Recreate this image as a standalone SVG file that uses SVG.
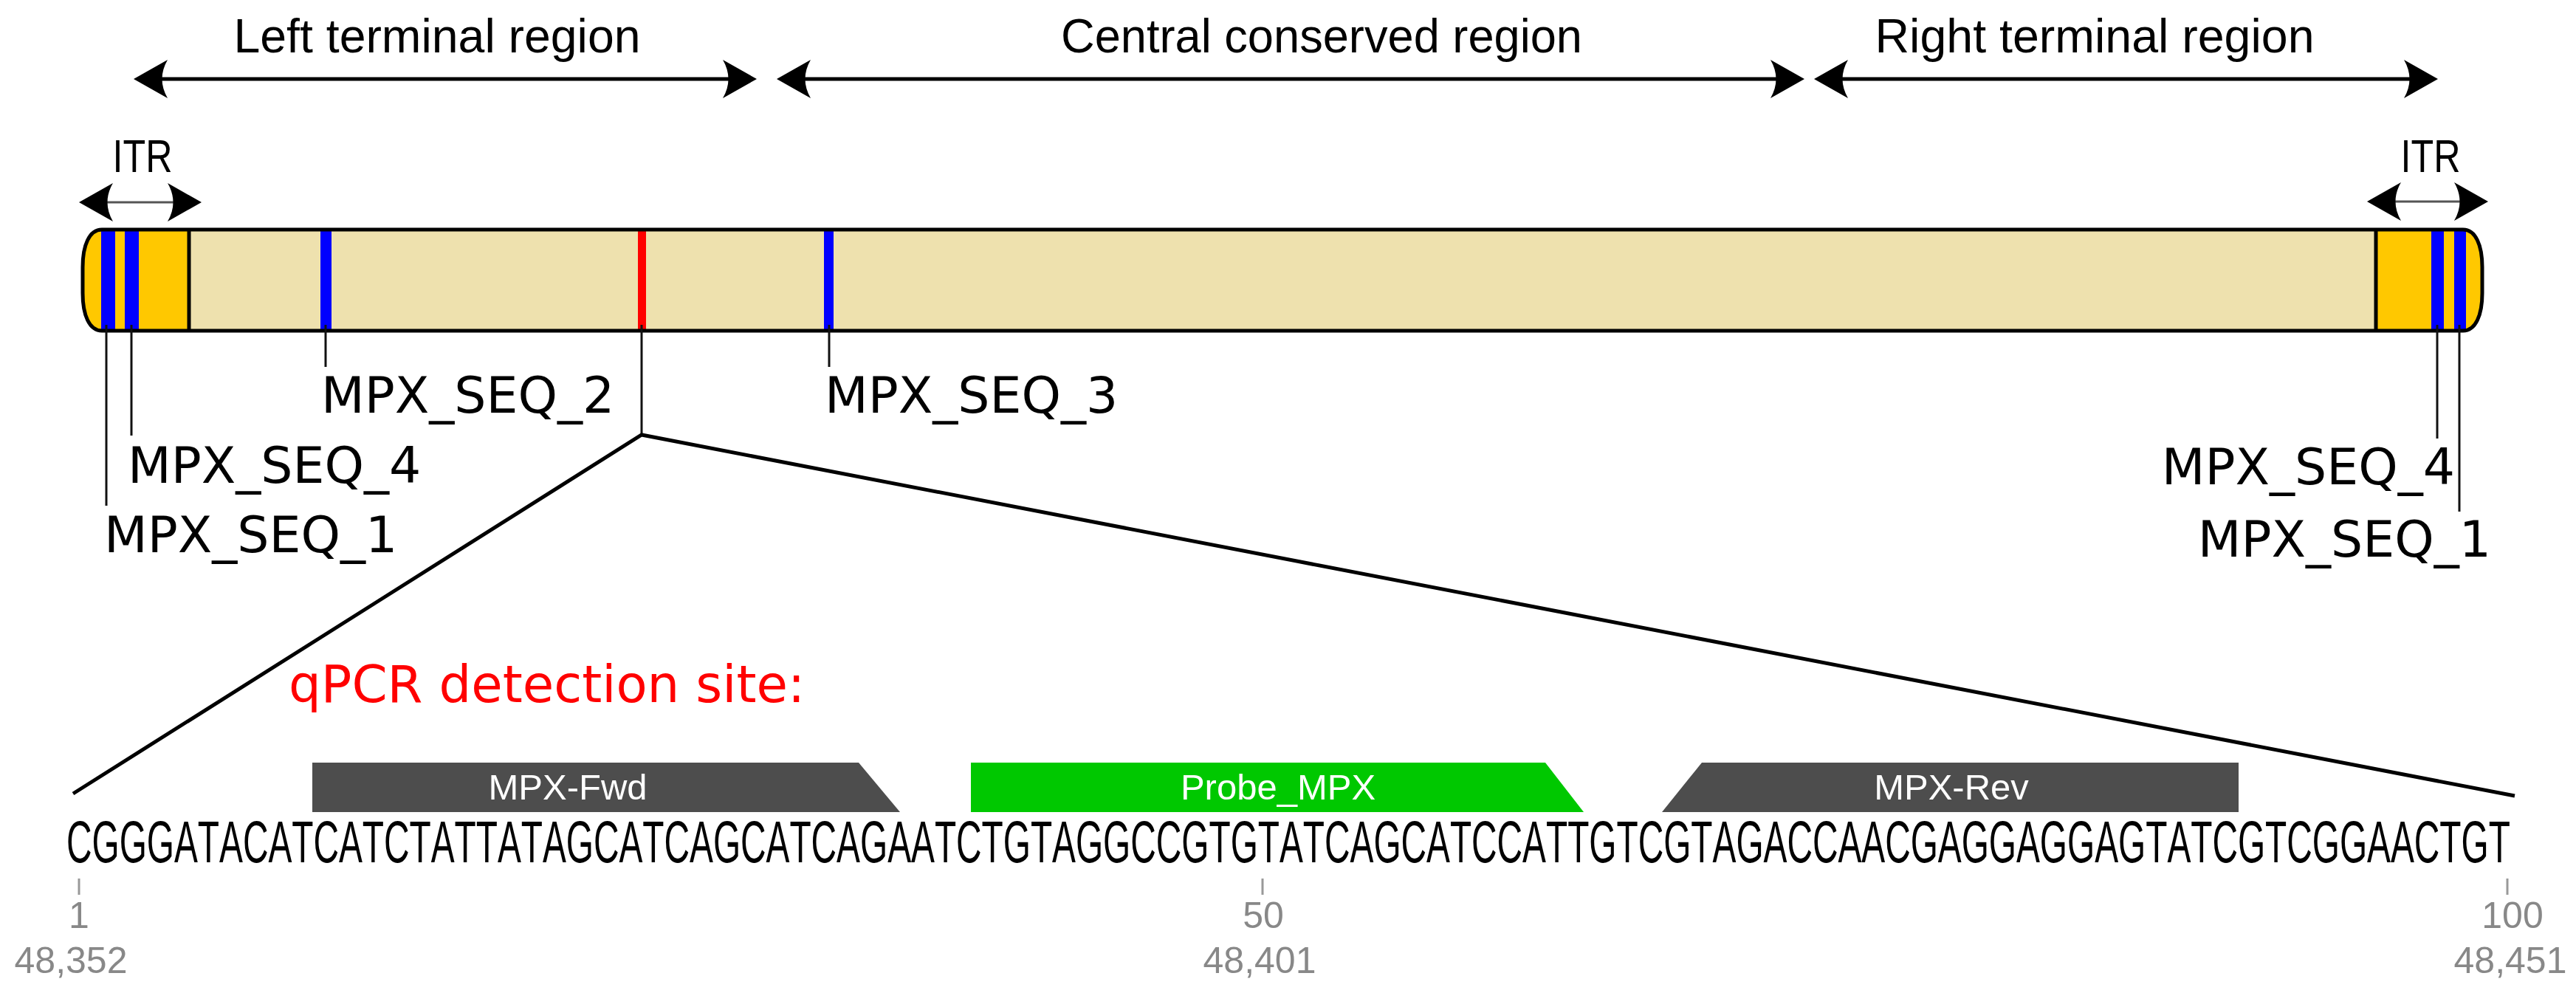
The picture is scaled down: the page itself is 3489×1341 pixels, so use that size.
<svg xmlns="http://www.w3.org/2000/svg" width="3489" height="1341" viewBox="0 0 3489 1341">
<style>
.region{font-family:"Liberation Sans",Arial,sans-serif;font-size:64px;fill:#000;text-anchor:middle}
.itr{font-family:"Liberation Sans",Arial,sans-serif;font-size:63px;fill:#000;text-anchor:middle}
.lbl{font-family:"DejaVu Sans",Verdana,sans-serif;font-size:68px;fill:#000}
.feat{font-family:"Liberation Sans",Arial,sans-serif;font-size:49px;fill:#fff;text-anchor:middle}
.seq{font-family:"Liberation Sans",Arial,sans-serif;font-size:80px;fill:#000;font-kerning:none}
.num{font-family:"Liberation Sans",Arial,sans-serif;font-size:50px;fill:#888;text-anchor:middle}
.bigarrow{stroke:#000;stroke-width:5;fill:none;marker-start:url(#ah);marker-end:url(#ah)}
.smallarrow{stroke:#555;stroke-width:3;fill:none;marker-start:url(#ah);marker-end:url(#ah)}
.leader{stroke:#111;stroke-width:3;fill:none}
.tick{stroke:#999;stroke-width:3}
</style>
<defs>
<marker id="ah" viewBox="0 0 46 52" refX="20" refY="26" markerWidth="46" markerHeight="52" markerUnits="userSpaceOnUse" orient="auto-start-reverse">
<path d="M46,26 L0,0 C10,17 10,35 0,52 Z" fill="#000"/>
</marker>
<clipPath id="barclip">
<path d="M138,311 H3336 C3353,311 3362,332 3362,362 V397 C3362,427 3353,448 3336,448 H138 C121,448 112,427 112,397 V362 C112,332 121,311 138,311 Z"/>
</clipPath>
</defs>
<rect width="3489" height="1341" fill="#fff"/>

<g id="region-left">
<line class="bigarrow" x1="207" y1="107" x2="999" y2="107"/>
<text class="region" x="592" y="71" textLength="551" lengthAdjust="spacingAndGlyphs">Left terminal region</text>
</g>
<g id="region-central">
<line class="bigarrow" x1="1078" y1="107" x2="2418" y2="107"/>
<text class="region" x="1790" y="71" textLength="706" lengthAdjust="spacingAndGlyphs">Central conserved region</text>
</g>
<g id="region-right">
<line class="bigarrow" x1="2483" y1="107" x2="3276" y2="107"/>
<text class="region" x="2837" y="71" textLength="595" lengthAdjust="spacingAndGlyphs">Right terminal region</text>
</g>
<g id="itr-left">
<line class="smallarrow" x1="133" y1="274" x2="247" y2="274"/>
<text class="itr" x="193" y="233" textLength="81" lengthAdjust="spacingAndGlyphs">ITR</text>
</g>
<g id="itr-right">
<line class="smallarrow" x1="3232" y1="273" x2="3344" y2="273"/>
<text class="itr" x="3292" y="233" textLength="81" lengthAdjust="spacingAndGlyphs">ITR</text>
</g>

<g id="genome-bar">
<g clip-path="url(#barclip)">
<rect x="100" y="305" width="3270" height="150" fill="#EEE1AE"/>
<rect x="100" y="305" width="156" height="150" fill="#FFC800"/>
<rect x="3218" y="305" width="150" height="150" fill="#FFC800"/>
<rect x="137" y="305" width="19" height="150" fill="#0000FF"/>
<rect x="169" y="305" width="19" height="150" fill="#0000FF"/>
<rect x="434" y="305" width="15" height="150" fill="#0000FF"/>
<rect x="864" y="305" width="11" height="150" fill="#FF0000"/>
<rect x="1116" y="305" width="13" height="150" fill="#0000FF"/>
<rect x="3293" y="305" width="17" height="150" fill="#0000FF"/>
<rect x="3324" y="305" width="16" height="150" fill="#0000FF"/>
</g>
<line x1="256" y1="311" x2="256" y2="448" stroke="#000" stroke-width="5"/>
<line x1="3218" y1="311" x2="3218" y2="448" stroke="#000" stroke-width="5"/>
<path d="M138,311 H3336 C3353,311 3362,332 3362,362 V397 C3362,427 3353,448 3336,448 H138 C121,448 112,427 112,397 V362 C112,332 121,311 138,311 Z" fill="none" stroke="#000" stroke-width="5"/>
</g>

<g id="seq1-left">
<line class="leader" x1="144" y1="440" x2="144" y2="685"/>
<text class="lbl" x="141" y="748">MPX_SEQ_1</text>
</g>
<g id="seq4-left">
<line class="leader" x1="178" y1="440" x2="178" y2="590"/>
<text class="lbl" x="173" y="654">MPX_SEQ_4</text>
</g>
<g id="seq2">
<line class="leader" x1="441" y1="440" x2="441" y2="497"/>
<text class="lbl" x="435" y="559">MPX_SEQ_2</text>
</g>
<g id="seq3">
<line class="leader" x1="1123" y1="440" x2="1123" y2="497"/>
<text class="lbl" x="1117" y="559">MPX_SEQ_3</text>
</g>
<g id="seq4-right">
<line class="leader" x1="3301" y1="440" x2="3301" y2="594"/>
<text class="lbl" x="3325" y="656" text-anchor="end">MPX_SEQ_4</text>
</g>
<g id="seq1-right">
<line class="leader" x1="3331" y1="440" x2="3331" y2="693"/>
<text class="lbl" x="3374" y="754" text-anchor="end">MPX_SEQ_1</text>
</g>

<g id="connectors">
<line class="leader" x1="869" y1="440" x2="869" y2="589"/>
<polyline points="99,1075 869,589 3406,1078" fill="none" stroke="#000" stroke-width="5" stroke-linejoin="miter"/>
</g>

<g id="qpcr-site">
<text x="391" y="951" font-family="DejaVu Sans, Verdana, sans-serif" font-size="69" fill="#FF0000">qPCR detection site:</text>
</g>

<g id="feature-fwd">
<polygon points="423,1033 1163,1033 1219,1100 423,1100" fill="#4D4D4D"/>
<text class="feat" x="769" y="1083">MPX-Fwd</text>
</g>
<g id="feature-probe">
<polygon points="1315,1033 2093,1033 2145,1100 1315,1100" fill="#00C800"/>
<text class="feat" x="1731" y="1083">Probe_MPX</text>
</g>
<g id="feature-rev">
<polygon points="2305,1033 3032,1033 3032,1100 2251,1100" fill="#4D4D4D"/>
<text class="feat" x="2643" y="1083">MPX-Rev</text>
</g>

<g id="sequence" transform="translate(90,1168) scale(0.59735,1)">
<text class="seq" x="0" y="0">CGGGATACATCATCTATTATAGCATCAGCATCAGAATCTGTAGGCCGTGTATCAGCATCCATTGTCGTAGACCAACGAGGAGGAGTATCGTCGGAACTGT</text>
</g>

<g id="ruler">
<line class="tick" x1="107" y1="1190" x2="107" y2="1212"/>
<line class="tick" x1="1710" y1="1190" x2="1710" y2="1212"/>
<line class="tick" x1="3396" y1="1190" x2="3396" y2="1212"/>
<text class="num" x="107" y="1257">1</text>
<text class="num" x="1711" y="1257">50</text>
<text class="num" x="3403" y="1257">100</text>
<text class="num" x="96" y="1318">48,352</text>
<text class="num" x="1706" y="1318">48,401</text>
<text class="num" x="3400" y="1318">48,451</text>
</g>
</svg>
